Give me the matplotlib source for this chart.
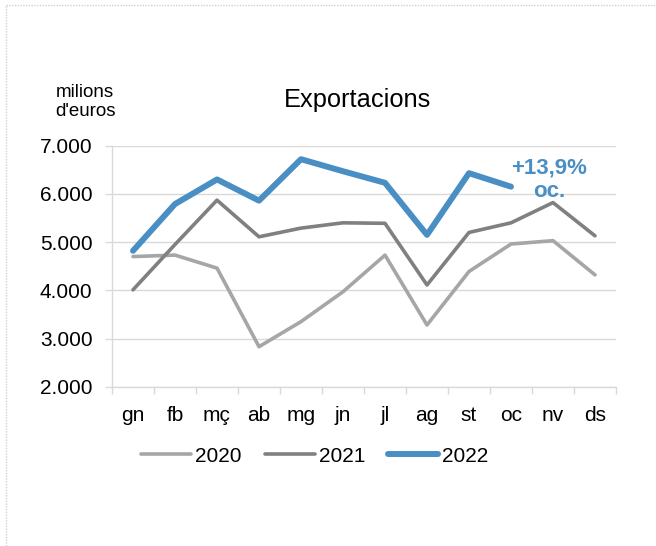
import matplotlib.pyplot as plt
from matplotlib.lines import Line2D
from matplotlib.ticker import FuncFormatter, FixedLocator

plt.rcParams["font.family"] = ["Liberation Sans", "DejaVu Sans"]

# dades (milions d'euros)
mesos = ["gn", "fb", "mç", "ab", "mg", "jn", "jl", "ag", "st", "oc", "nv", "ds"]
exp2020 = [4700, 4730, 4460, 2830, 3350, 3970, 4730, 3280, 4390, 4960, 5030, 4320]
exp2021 = [4010, 4950, 5870, 5110, 5290, 5400, 5390, 4110, 5200, 5400, 5820, 5130]
exp2022 = [4820, 5790, 6300, 5860, 6720, 6470, 6230, 5150, 6430, 6150]

fig = plt.figure(figsize=(6.56, 5.46), dpi=100)
ax = fig.add_axes([112 / 656, 1 - 386.7 / 546, 504 / 656, 241 / 546])

x = list(range(len(mesos)))
ax.plot(x, exp2020, color="#A6A6A6", lw=2.6, label="2020", solid_capstyle="round")
ax.plot(x, exp2021, color="#808080", lw=2.6, label="2021", solid_capstyle="round")
ax.plot(x[:len(exp2022)], exp2022, color="#4A8FC4", lw=4.3, label="2022",
        solid_capstyle="round")

ax.set_xlim(-0.5, 11.5)
ax.set_ylim(2000, 7000)
ax.set_yticks(range(2000, 7001, 1000))
ax.yaxis.set_major_formatter(FuncFormatter(lambda v, p: f"{int(v):,}".replace(",", ".")))
ax.set_xticks(x)
ax.set_xticklabels(mesos)
ax.xaxis.set_minor_locator(FixedLocator([i - 0.5 for i in range(13)]))

ax.grid(axis="y", color="#D9D9D9", lw=1)
ax.set_axisbelow(True)
for s in ["top", "right"]:
    ax.spines[s].set_visible(False)
for s in ["left", "bottom"]:
    ax.spines[s].set_color("#D9D9D9")
    ax.spines[s].set_linewidth(1)

ax.tick_params(axis="x", which="major", length=0, pad=14, labelsize=15)
ax.tick_params(axis="x", which="minor", length=5, color="#D9D9D9", width=1)
ax.tick_params(axis="y", length=5, color="#D9D9D9", width=1, pad=9, labelsize=15)

ax.text(9.9, 6300, "+13,9%\noc.", color="#4A8FC4", fontsize=16, fontweight="bold",
        ha="center", va="center", linespacing=1.15)

fig.text(358 / 656, 1 - 100 / 546, "Exportacions", fontsize=18.3, ha="center", va="center")
fig.text(85 / 656, 1 - 102 / 546, "milions\nd'euros", fontsize=13.5, ha="center",
         va="center", linespacing=1.1)

ax.legend(loc="center", bbox_to_anchor=(315 / 656, 1 - 456 / 546),
          bbox_transform=fig.transFigure, ncol=3, frameon=False, fontsize=15,
          handlelength=2.4, handletextpad=0.2, columnspacing=1.1)

# marc puntejat
fig.add_artist(Line2D([6 / 656, 1], [1 - 5 / 546, 1 - 5 / 546], transform=fig.transFigure,
                      color="#D0D0D0", lw=1, ls=(0, (1, 1))))
fig.add_artist(Line2D([6 / 656, 6 / 656], [0, 1 - 5 / 546], transform=fig.transFigure,
                      color="#D0D0D0", lw=1, ls=(0, (1, 1))))

fig.savefig("out.png", dpi=100)
